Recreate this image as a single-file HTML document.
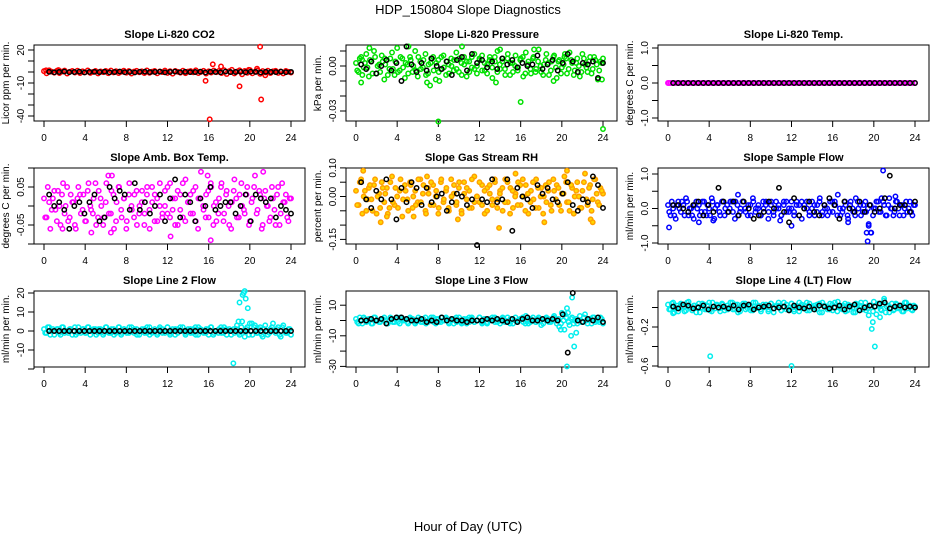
<!DOCTYPE html>
<html><head><meta charset="utf-8"><style>
body{margin:0;background:#fff;}
svg{display:block;font-family:"Liberation Sans",sans-serif;}
</style></head><body>
<svg id="chart" width="936" height="540" viewBox="0 0 936 540">
<text x="468" y="14" text-anchor="middle" font-size="13">HDP_150804  Slope Diagnostics</text>
<text x="468" y="531" text-anchor="middle" font-size="13">Hour of Day (UTC)</text>
</svg>
<script>
const xTicks=[0,4,8,12,16,20,24];
const titles=["Slope Li-820 CO2","Slope Li-820 Pressure","Slope Li-820 Temp.","Slope Amb. Box Temp.","Slope Gas Stream RH","Slope Sample Flow","Slope Line 2 Flow","Slope Line 3 Flow","Slope Line 4 (LT) Flow"];
const ylabs=["Licor ppm per min.","kPa per min.","degrees C per min.","degrees C per min.","percent per min.","ml/min per min.","ml/min per min.","ml/min per min.","ml/min per min."];
const colors=["#ff0000","#00e000","#ff00ff","#ff00ff","#ffa000","#0000ff","#00eeee","#00eeee","#00eeee"];
const fills=["none","none","none","none","#ffd800","none","none","none","none"];
const yTicks=[[20,10,0,-10,-20,-30,-40],[0.01,0,-0.01,-0.02,-0.03],[1,0.5,0,-0.5,-1],[0.1,0.05,0,-0.05,-0.1],[0.1,0.05,0,-0.05,-0.1,-0.15],[1,0.5,0,-0.5,-1],[20,10,0,-10,-20],[10,0,-10,-20,-30],[0,-0.2,-0.4,-0.6]];
const yLabels=[["20","","","-10","","","-40"],["","0.00","","","-0.03"],["1.0","","0.0","","-1.0"],["","0.05","","-0.05",""],["0.10","","0.00","","","-0.15"],["1.0","","0.0","","-1.0"],["20","10","0","-10",""],["10","","-10","","-30"],["","-0.2","","-0.6"]];
const yZero=[27,21,38,38,28.5,40.5,40,29.5,16.5];
const yScale=[1.1,1500,35,380,286,34.5,1.9,1.53,97.5];

const col1=[0.8,-1.2,1.5,0.3,-0.6,1.1,-0.9,0.4,1.3,-1.4,0.2,0.9,-0.5,1.2,-1.0,0.6,-0.3,1.4,-0.8,0.1,1.0,-1.3,0.5,-0.2,0.9,-1.1,1.3,-0.4,0.7,-0.9,0.2,1.2,-0.6,0.8,-1.4,0.4,1.1,-0.3,0.6,-1.0,1.4,-0.7,0.3,0.9,-1.2,0.5,-0.1,1.3,-0.8,0.7,-1.5,1.0,0.2,-0.6,1.2,-1.1,0.4,0.8,-0.3,1.5,-0.9,0.1,1.1,-1.4,0.6,-0.5,1.3,-0.2,0.9,-1.0,1.6,-1.8,0.7,2.0,-1.3,0.4,1.5,-2.1,0.9,-0.7,1.8,-1.2,0.3,1.4,-1.6,0.8,-0.4,1.2,-1.0,0.6,1.1,-0.8,0.5,-1.3,0.9,0.2,-0.5];
const colB1=[];
const blk1=[0.2,-0.3,0.1,0.4,-0.2,0.0,0.3,-0.4,0.1,0.2,-0.1,0.3,-0.3,0.0,0.4,-0.2,0.1,-0.4,0.2,0.3,-0.1,0.0,0.3,-0.3,0.1,0.4,-0.2,0.2,-0.1,0.0,0.3,-0.4,0.2,0.1,-0.3,0.4,-0.1,0.0,0.2,-0.2,0.3,0.1,-0.4,0.2,0.0,-0.1,0.3,-0.2,0.1];
const outX1=[0.2,1.4,15.7,16.1,16.4,17.2,19.0,19.9,20.7,21.0,21.1,21.5];
const outY1=[1.5,1.8,-8,-43,7,5,-13,2,3,23,-25,-3];

const col2=[0.002,-0.004,0.006,-0.001,0.008,-0.007,0.003,0.010,-0.005,0.001,0.007,-0.009,0.004,-0.002,0.009,-0.006,0.012,-0.003,0.005,-0.008,0.001,0.006,-0.004,0.010,-0.007,0.003,-0.001,0.008,-0.005,0.002,0.006,-0.009,0.004,-0.002,0.007,-0.006,0.001,0.005,-0.003,0.009,-0.004,0.002,0.006,-0.007,0.003,-0.001,0.008,-0.005,0.004,0.007,-0.003,0.001,0.006,-0.008,0.003,0.010,-0.002,0.005,-0.006,0.008,0.002,-0.004,0.007,-0.001,0.005,-0.007,0.009,0.003,-0.005,0.006,-0.002,0.011,-0.004,0.001,0.008,-0.006,0.003,0.007,-0.008,0.004,-0.001,0.006,-0.005,0.009,0.002,-0.003,0.005,-0.007,0.008,0.001,-0.004,0.006,-0.002,0.004,-0.009,0.003,0.005];
const colB2=[-0.003,0.005,-0.006,0.002,-0.001,0.004,-0.005,0.006,0.000,-0.004,0.003,0.001,-0.006,0.005,-0.002,0.003,-0.004,0.006,-0.001,0.002,-0.005,0.004,0.000,-0.003,0.006,-0.002,0.004,-0.006,0.001,0.005,-0.003,0.002,-0.004,0.006,-0.001,0.003,-0.005,0.000,0.004,-0.002,0.005,-0.006,0.001,0.003,-0.004,0.006,-0.002,0.000,0.005,-0.003,0.002,-0.005,0.004,-0.001,0.006,-0.004,0.001,0.003,-0.002,0.005,-0.006,0.002,0.000,-0.003,0.004,0.006,-0.005,0.001,-0.002,0.005,-0.004,0.003,0.000,-0.006,0.004,0.002,-0.003,0.006,-0.001,0.003,-0.005,0.001,0.005,-0.002,0.004,-0.006,0.002,0.000,-0.004,0.005,-0.001,0.003,-0.005,0.006,0.001,-0.003,0.002];
const blk2=[0.001,-0.002,0.003,-0.005,0.000,0.004,-0.003,0.002,-0.010,0.013,0.001,-0.004,0.002,-0.003,0.005,0.000,-0.002,0.003,-0.006,0.004,0.006,-0.003,0.008,0.002,0.004,-0.001,0.003,-0.002,0.005,0.001,0.004,-0.001,0.002,0.000,0.001,0.007,-0.002,0.001,0.004,-0.003,0.002,0.008,0.003,-0.004,0.002,0.001,0.003,-0.008,0.002];
const outX2=[0.5,0.6,1.3,2.8,5.1,6.9,7.2,8.0,8.1,10.3,13.6,14.0,16.0,17.3,19.2,20.3,24.0,23.9];
const outY2=[-0.011,0.004,0.012,0.005,0.013,-0.011,-0.013,-0.037,-0.010,0.013,-0.011,0.011,-0.024,0.011,-0.010,0.008,-0.042,-0.009];

const col3=[0,0,0,0,0,0,0,0,0,0,0,0,0,0,0,0,0,0,0,0,0,0,0,0,0,0,0,0,0,0,0,0,0,0,0,0,0,0,0,0,0,0,0,0,0,0,0,0,0,0,0,0,0,0,0,0,0,0,0,0,0,0,0,0,0,0,0,0,0,0,0,0,0,0,0,0,0,0,0,0,0,0,0,0,0,0,0,0,0,0,0,0,0,0,0,0,0];
const colB3=[];
const blk3=[0,0,0,0,0,0,0,0,0,0,0,0,0,0,0,0,0,0,0,0,0,0,0,0,0,0,0,0,0,0,0,0,0,0,0,0,0,0,0,0,0,0,0,0,0,0,0,0,0];
const outX3=[0.1];
const outY3=[0];

const col4=[0.02,-0.03,0.01,-0.01,0.04,-0.04,0.00,0.03,-0.02,0.05,-0.03,0.01,-0.05,0.02,0.03,-0.01,-0.04,0.04,0.00,-0.02,0.06,-0.03,0.02,-0.05,0.01,0.08,-0.02,0.03,-0.04,0.05,-0.01,0.02,-0.06,0.03,0.00,-0.03,0.04,-0.02,0.01,-0.05,0.03,-0.01,0.05,-0.04,0.02,0.00,-0.03,0.04,-0.02,0.06,-0.01,0.02,-0.05,0.03,-0.03,0.07,0.01,-0.02,0.04,-0.04,0.02,0.09,-0.01,0.03,-0.03,0.05,0.00,-0.04,0.02,0.06,-0.02,0.04,-0.05,0.01,0.07,-0.03,0.03,0.00,-0.02,0.05,-0.04,0.02,0.08,-0.01,0.03,-0.05,0.04,0.00,-0.03,0.02,-0.05,0.05,-0.02,0.01,0.03,-0.04,0.02];
const colB4=[-0.03,0.05,-0.06,0.02,-0.01,0.04,-0.05,0.06,0.00,-0.04,0.03,0.01,-0.06,0.05,-0.02,0.03,-0.04,0.06,-0.01,0.02,-0.05,0.04,0.00,-0.03,0.06,-0.02,0.04,-0.06,0.01,0.05,-0.03,0.02,-0.04,0.06,-0.01,0.03,-0.05,0.00,0.04,-0.02,0.05,-0.06,0.01,0.03,-0.04,0.06,-0.02,0.00,0.05,-0.03,0.02,-0.05,0.04,-0.01,0.06,-0.04,0.01,0.03,-0.02,0.05,-0.06,0.02,0.00,-0.03,0.04,0.06,-0.05,0.01,-0.02,0.05,-0.04,0.03,0.00,-0.06,0.04,0.02,-0.03,0.06,-0.01,0.03,-0.05,0.01,0.05,-0.02,0.04,-0.06,0.02,0.00,-0.04,0.05,-0.01,0.03,-0.05,0.06,0.01,-0.03,0.02];
const blk4=[0.03,0.00,0.01,-0.01,-0.06,0.00,0.01,-0.02,0.01,0.03,-0.04,-0.03,0.05,0.02,0.04,0.03,-0.01,0.06,-0.01,0.01,-0.02,0.00,0.03,-0.04,0.02,0.07,-0.03,0.03,0.01,-0.04,0.02,0.00,0.05,-0.01,0.00,0.01,0.01,-0.02,0.00,0.03,-0.04,0.03,0.02,0.01,0.02,-0.03,0.00,-0.01,-0.02];
const outX4=[1.8,4.6,6.6,12.3,16.2,15.9,21.3,6.5];
const outY4=[-0.06,-0.07,0.08,-0.08,-0.09,0.08,0.09,-0.07];

const col5=[0.02,-0.03,0.06,0.00,-0.05,0.03,-0.01,0.04,-0.06,0.01,0.05,-0.02,0.03,-0.04,0.07,-0.03,0.00,0.02,-0.07,0.04,-0.01,0.05,-0.04,0.02,-0.02,0.06,0.01,-0.05,0.03,-0.03,0.04,0.00,-0.06,0.05,-0.02,0.02,-0.04,0.06,0.01,-0.03,0.03,-0.05,0.05,-0.01,0.02,-0.04,0.07,0.00,-0.02,0.04,-0.06,0.03,0.01,-0.03,0.05,-0.01,0.02,-0.05,0.06,-0.02,0.03,-0.04,0.01,0.05,-0.03,0.00,0.04,-0.06,0.02,-0.01,0.06,-0.04,0.03,0.00,-0.02,0.05,-0.05,0.02,0.04,-0.03,0.01,0.07,-0.02,-0.05,0.03,0.00,0.05,-0.04,0.02,0.08,-0.03,0.04,-0.01,0.06,-0.02,0.03,0.01];
const colB5=[-0.03,0.05,-0.06,0.02,-0.01,0.04,-0.05,0.06,0.00,-0.04,0.03,0.01,-0.06,0.05,-0.02,0.03,-0.04,0.06,-0.01,0.02,-0.05,0.04,0.00,-0.03,0.06,-0.02,0.04,-0.06,0.01,0.05,-0.03,0.02,-0.04,0.06,-0.01,0.03,-0.05,0.00,0.04,-0.02,0.05,-0.06,0.01,0.03,-0.04,0.06,-0.02,0.00,0.05,-0.03,0.02,-0.05,0.04,-0.01,0.06,-0.04,0.01,0.03,-0.02,0.05,-0.06,0.02,0.00,-0.03,0.04,0.06,-0.05,0.01,-0.02,0.05,-0.04,0.03,0.00,-0.06,0.04,0.02,-0.03,0.06,-0.01,0.03,-0.05,0.01,0.05,-0.02,0.04,-0.06,0.02,0.00,-0.04,0.05,-0.01,0.03,-0.05,0.06,0.01,-0.03,0.02];
const blk5=[0.05,-0.01,-0.04,0.02,-0.01,0.06,-0.01,-0.08,0.03,-0.02,0.05,0.03,-0.03,0.03,-0.02,0.00,0.01,-0.05,-0.02,0.01,0.00,-0.03,-0.01,-0.17,-0.01,-0.02,0.06,-0.02,-0.01,0.06,-0.12,0.03,0.00,-0.01,-0.04,0.04,0.01,0.03,-0.01,-0.02,0.01,0.05,-0.03,-0.05,-0.01,-0.02,0.07,0.04,-0.04];
const outX5=[0.7,2.4,3.0,5.6,6.9,9.9,13.9,15.5,18.3,22.8,23.0,20.5];
const outY5=[0.09,-0.09,-0.07,-0.07,0.07,-0.08,-0.11,0.08,-0.09,-0.08,-0.09,0.09];

const col6=[0.1,-0.2,0.0,-0.3,0.2,-0.1,0.1,0.3,-0.2,0.0,-0.3,0.2,0.1,-0.1,0.2,-0.2,0.0,0.3,-0.3,0.1,-0.1,0.2,-0.2,0.1,0.0,0.2,-0.3,0.1,-0.1,0.2,0.0,-0.2,0.1,0.3,-0.1,0.0,-0.2,0.2,0.1,-0.3,0.1,-0.1,0.2,0.0,-0.2,0.1,0.2,-0.1,0.0,-0.2,0.2,0.1,-0.3,0.1,0.0,-0.1,0.2,-0.2,0.1,0.3,-0.1,0.0,-0.2,0.2,-0.1,0.1,0.4,-0.2,0.0,0.1,-0.3,0.2,-0.1,0.3,0.0,-0.2,0.1,-0.1,-0.5,-0.7,0.0,0.2,-0.1,0.3,0.1,-0.2,0.3,0.0,-0.1,0.2,-0.2,0.1,0.0,-0.1,0.2,-0.2,0.1];
const colB6=[-0.1,0.2,-0.2,0.1,0.0,0.2,-0.2,0.2,0.0,-0.2,0.1,0.0,-0.2,0.2,-0.1,0.1,-0.2,0.2,0.0,0.1,-0.2,0.2,0.0,-0.1,0.2,-0.1,0.2,-0.2,0.0,0.2,-0.1,0.1,-0.2,0.2,0.0,0.1,-0.2,0.0,0.2,-0.1,0.2,-0.2,0.0,0.1,-0.2,0.2,-0.1,0.0,0.2,-0.1,0.1,-0.2,0.2,0.0,0.2,-0.2,0.0,0.1,-0.1,0.2,-0.2,0.1,0.0,-0.1,0.2,0.2,-0.2,0.0,-0.1,0.2,-0.2,0.1,0.0,-0.2,0.2,0.1,-0.1,0.2,0.0,0.1,-0.2,0.0,0.2,-0.1,0.2,-0.2,0.1,0.0,-0.2,0.2,0.0,0.1,-0.2,0.2,0.0,-0.1,0.1];
const blk6=[0.1,0.1,0.0,-0.1,0.1,0.2,-0.2,0.1,-0.1,0.6,0.2,-0.1,0.2,-0.2,0.2,0.0,-0.3,-0.2,-0.1,0.2,0.0,0.6,-0.1,-0.4,0.3,-0.2,0.0,0.2,-0.1,-0.2,0.1,0.3,0.1,-0.3,0.2,0.0,-0.1,0.2,-0.1,0.1,-0.1,0.0,0.3,0.95,0.0,0.1,0.1,-0.1,0.2];
const outX6=[0.1,3.0,4.4,6.8,10.9,12.0,17.5,19.3,19.4,19.5,19.7,20.9,22.1];
const outY6=[-0.55,-0.4,-0.35,0.4,-0.35,-0.5,-0.4,-0.7,-0.95,-0.45,-0.7,1.1,0.35];

const col7=[1,-1,2,0,-2,1,-1,2,-1,0,1,-2,2,-1,0,1,-1,2,-2,0,1,-1,1,-2,2,0,-1,1,-1,2,-2,1,0,-1,2,-1,1,-2,0,1,-1,2,-1,0,-2,1,1,-1,2,-2,0,1,-1,2,0,-2,1,-1,1,-2,2,0,-1,1,-2,2,-1,0,1,-1,2,-2,1,0,-1,3,-2,5,-3,2,4,-2,3,-1,2,-3,3,-2,1,4,-1,2,-3,3,-1,1,-2];
const colB7=[-1,2,-2,1,0,1,-2,2,0,-1,1,0,-2,2,-1,1,-1,2,0,1,-2,1,0,-1,2,-1,1,-2,0,2,-1,1,-1,2,0,1,-2,0,1,-1,2,-2,0,1,-1,2,-1,0,2,-1,1,-2,1,0,2,-1,0,1,-1,2,-2,1,0,-1,1,2,-2,0,-1,2,-1,1,0,-2,1,1,-1,2,0,1,-2,0,2,-1,1,-2,1,0,-1,2,0,1,-2,2,0,-1,1];
const blk7=[0,0,0,0,0,0,0,0,0,0,0,0,0,0,0,0,0,0,0,0,0,0,0,0,0,0,0,0,0,0,0,0,0,0,0,0,0,0,0,0,0,0,0,0,0,0,0,0,0];
const outX7=[18.4,18.9,19.0,19.3,19.4,19.6,19.5,19.8,20.2];
const outY7=[-17,5,15,19,20,17,21,12,4];

const col8=[1,-2,0,2,-1,1,-2,2,0,-1,1,2,-2,0,1,-1,2,-2,1,0,-1,2,1,-2,0,1,-1,2,-1,0,2,-2,1,-1,0,2,-1,1,-2,2,0,-1,1,-2,2,1,-1,0,2,-2,1,-1,0,2,-1,1,-2,2,0,-1,1,-2,2,0,1,-1,3,-2,1,0,-1,2,-3,1,2,-1,0,3,-2,-4,5,-6,8,-3,2,0,-2,3,-1,4,-2,1,2,-1,0,2,-2];
const colB8=[-1,2,-2,1,0,1,-2,2,0,-1,1,0,-2,2,-1,1,-1,2,0,1,-2,1,0,-1,2,-1,1,-2,0,2,-1,1,-1,2,0,1,-2,0,1,-1,2,-2,0,1,-1,2,-1,0,2,-1,1,-2,1,0,2,-1,0,1,-1,2,-2,1,0,-1,1,2,-2,0,-1,2,-1,1,0,-2,1,1,-1,2,0,1,-2,0,2,-1,1,-2,1,0,-1,2,0,1,-2,2,0,-1,1];
const blk8=[0,0,1,0,1,-2,1,2,2,1,0,0,1,-1,0,-1,2,0,1,0,0,-1,0,0,0,1,0,1,0,-1,1,-1,1,2,0,0,1,0,1,0,4,-21,18,0,-1,1,0,2,-1];
const outX8=[19.9,20.3,20.5,20.9,21.0,21.2,21.4,20.6];
const outY8=[-6,4,-30,-10,15,-17,-8,5];

const col9=[0.03,-0.02,0.05,0.00,-0.04,0.04,0.01,-0.03,0.06,-0.01,0.02,-0.05,0.04,0.00,0.03,-0.02,0.05,-0.04,0.01,0.03,-0.01,0.04,-0.03,0.02,0.00,0.05,-0.02,0.03,-0.04,0.01,0.04,-0.01,0.02,-0.03,0.05,0.00,-0.02,0.03,0.01,-0.04,0.04,-0.01,0.02,0.05,-0.03,0.00,0.03,-0.02,0.04,-0.04,0.01,0.05,-0.01,0.02,-0.03,0.04,0.00,-0.02,0.03,-0.05,0.05,0.01,-0.02,0.04,-0.03,0.00,0.06,-0.01,0.02,-0.04,0.03,0.01,-0.05,0.04,-0.02,0.05,0.00,-0.03,-0.08,0.02,0.06,-0.07,0.03,-0.03,0.07,0.01,-0.05,0.04,-0.02,0.03,0.00,-0.04,0.05,-0.01,0.02,-0.03,0.01];
const colB9=[-0.02,0.04,-0.05,0.02,-0.01,0.03,-0.04,0.05,0.00,-0.03,0.02,0.01,-0.05,0.04,-0.02,0.02,-0.03,0.05,-0.01,0.02,-0.04,0.03,0.00,-0.02,0.05,-0.02,0.03,-0.05,0.01,0.04,-0.02,0.02,-0.03,0.05,-0.01,0.02,-0.04,0.00,0.03,-0.02,0.04,-0.05,0.01,0.02,-0.03,0.05,-0.02,0.00,0.04,-0.02,0.02,-0.04,0.03,-0.01,0.05,-0.03,0.01,0.02,-0.02,0.04,-0.05,0.02,0.00,-0.02,0.03,0.05,-0.04,0.01,-0.02,0.04,-0.03,0.02,0.00,-0.05,0.03,0.02,-0.02,0.05,-0.01,0.02,-0.04,0.01,0.04,-0.02,0.03,-0.05,0.02,0.00,-0.03,0.04,-0.01,0.02,-0.04,0.05,0.01,-0.02,0.02];
const blk9=[0.01,-0.01,0.03,0.02,-0.01,0.00,0.02,-0.02,0.01,0.00,0.01,-0.01,0.02,-0.02,0.02,0.03,-0.02,0.00,0.01,0.02,-0.01,0.00,0.01,-0.03,0.02,0.00,-0.01,0.01,-0.02,0.02,0.01,-0.01,0.00,0.02,-0.02,0.01,0.03,-0.03,0.00,0.02,0.01,0.04,0.05,-0.01,0.01,0.02,0.00,0.01,0.00];
const outX9=[4.1,12.0,19.8,19.9,20.1,20.6,21.0,0.5];
const outY9=[-0.50,-0.60,-0.22,-0.15,-0.40,-0.10,0.09,-0.06];

const cols=[col1,col2,col3,col4,col5,col6,col7,col8,col9];
const colBs=[colB1,colB2,colB3,colB4,colB5,colB6,colB7,colB8,colB9];
const blks=[blk1,blk2,blk3,blk4,blk5,blk6,blk7,blk8,blk9];
const outXs=[outX1,outX2,outX3,outX4,outX5,outX6,outX7,outX8,outX9];
const outYs=[outY1,outY2,outY3,outY4,outY5,outY6,outY7,outY8,outY9];

const svg=document.getElementById('chart');
const NS='http://www.w3.org/2000/svg';
function mk(tag,attrs,parent){const e=document.createElementNS(NS,tag);for(const k in attrs)e.setAttribute(k,attrs[k]);parent.appendChild(e);return e;}
const rowTop=[45,168,291];
const RAD=2.2,SW=1.5;

for(let p=0;p<9;p++){
  const r=Math.floor(p/3),c=p%3;
  const L=34+312*c,R=305+312*c,T=rowTop[r],B=T+76;
  const g=mk('g',{},svg);
  
  
  const xS=v=>44+312*c+v*(247/24);
  const yS=v=>T+yZero[p]-v*yScale[p];
  const t=mk('text',{x:(L+R)/2,y:T-7,'text-anchor':'middle','font-size':'11','font-weight':'bold'},g);
  t.textContent=titles[p];
  
  
  const xa=mk('g',{},g);
  
  
  mk('line',{x1:xS(0),x2:xS(24),y1:B,y2:B,stroke:'#000','stroke-width':1},xa);
  xTicks.forEach(v=>{
    mk('line',{x1:xS(v),x2:xS(v),y1:B,y2:B+6,stroke:'#000','stroke-width':1},xa);
    const tx=mk('text',{x:xS(v),y:B+20,'text-anchor':'middle','font-size':'10'},xa);
    tx.textContent=v;
    
    
  });
  const ya=mk('g',{},g);
  
  
  const yt=yTicks[p];
  mk('line',{x1:L,x2:L,y1:yS(yt[0]),y2:yS(yt[yt.length-1]),stroke:'#000','stroke-width':1},ya);
  yt.forEach((v,i)=>{
    const yy=yS(v);
    mk('line',{x1:L-6,x2:L,y1:yy,y2:yy,stroke:'#000','stroke-width':1},ya);
    if(yLabels[p][i]){
      const ty=mk('text',{x:L-10,y:yy,'text-anchor':'middle','font-size':'10',transform:`rotate(-90 ${L-10} ${yy})`},ya);
      ty.textContent=yLabels[p][i];
      
      
    }
  });
  const yl=mk('text',{x:L-25,y:(T+B)/2,'text-anchor':'middle','font-size':'10',transform:`rotate(-90 ${L-25} ${(T+B)/2})`},g);
  yl.textContent=ylabs[p];
  
  
  mk('rect',{x:L,y:T,width:R-L,height:B-T,fill:'none',stroke:'#000','stroke-width':1},g);
  const col=colors[p],fl=fills[p];
  const cs=cols[p],n=cs.length;
  cs.forEach((v,i)=>{
    const pt=mk('circle',{cx:xS(i*24/(n-1)),cy:yS(v),r:RAD,fill:fl,stroke:col,'stroke-width':SW},g);
    
    
  });
  const cb=colBs[p],nb=cb.length;
  cb.forEach((v,i)=>{
    const pt=mk('circle',{cx:xS(0.12+i*23.76/(nb-1)),cy:yS(v),r:RAD,fill:fl,stroke:col,'stroke-width':SW},g);
    
    
  });
  outXs[p].forEach((xv,i)=>{
    const pt=mk('circle',{cx:xS(xv),cy:yS(outYs[p][i]),r:RAD,fill:fl,stroke:col,'stroke-width':SW},g);
    
    
  });
  const bs=blks[p],m=bs.length;
  bs.forEach((v,i)=>{
    const pt=mk('circle',{cx:xS(0.5+i*23.5/(m-1)),cy:yS(v),r:RAD,fill:'none',stroke:'#000','stroke-width':SW},g);
    
    
  });
}
</script>
</body></html>
